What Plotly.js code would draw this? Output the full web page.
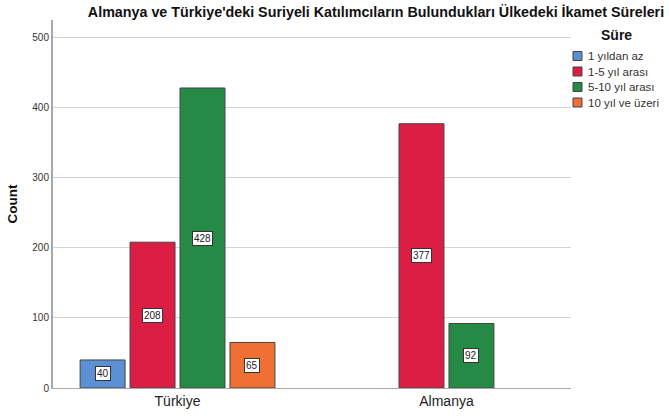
<!DOCTYPE html>
<html>
<head>
<meta charset="utf-8">
<script src="https://cdn.plot.ly/plotly-3.0.1.min.js"></script>
<style>html,body{margin:0;padding:0;background:#fff;}#chart{width:669px;height:416px;}</style>
</head>
<body>
<div id="chart"></div>
<script>
const categories = ["Türkiye", "Almanya"];
const seriesNames = ["1 yıldan az", "1-5 yıl arası", "5-10 yıl arası", "10 yıl ve üzeri"];
const val_1yildanaz = [40, null];
const val_1_5 = [208, 377];
const val_5_10 = [428, 92];
const val_10ustu = [65, null];
const seriesValues = [val_1yildanaz, val_1_5, val_5_10, val_10ustu];
const colors = ["#5B90D2", "#DC1D44", "#248A45", "#EF6F35"];
const legendTitle = "Süre";
const yTitle = "Count";
const chartTitle = "Almanya ve Türkiye'deki Suriyeli Katılımcıların Bulundukları Ülkedeki İkamet Süreleri";

const FONT = "Liberation Sans, Arial, sans-serif";
const W = 669, H = 416;
const M = { l: 53, r: 98, t: 20, b: 28 };
const PW = W - M.l - M.r, PH = H - M.t - M.b;
const px2x = px => (px - M.l) / PW;
const py2y = py => (H - M.b - py) / PH;

const bargap = 0.257;
const slot = (1 - bargap) / seriesNames.length;

const traces = seriesNames.map((name, j) => ({
  type: "bar",
  name: name,
  x: categories,
  y: seriesValues[j],
  marker: { color: colors[j], line: { color: "#444", width: 1 } },
  hoverinfo: "none",
  showlegend: false
}));

const annotations = [];
seriesValues.forEach((vals, j) => {
  vals.forEach((v, i) => {
    if (v == null) return;
    annotations.push({
      x: i + (j - (seriesNames.length - 1) / 2) * slot,
      y: v / 2,
      xref: "x", yref: "y",
      text: String(v),
      showarrow: false,
      font: { family: FONT, size: 10, color: "#222" },
      bgcolor: "#ffffff",
      bordercolor: "#333",
      borderwidth: 1,
      borderpad: 1
    });
  });
});

// manual legend
const shapes = [];
annotations.push({
  xref: "paper", yref: "paper",
  x: px2x(616), y: py2y(35),
  xanchor: "center", yanchor: "middle",
  text: "<b>" + legendTitle + "</b>", showarrow: false,
  font: { family: FONT, size: 14, color: "#111" }
});
seriesNames.forEach((name, j) => {
  const cy = 56 + j * 15.5;
  shapes.push({
    type: "rect", xref: "paper", yref: "paper",
    x0: px2x(573), x1: px2x(582), y0: py2y(cy + 4.5), y1: py2y(cy - 4.5),
    fillcolor: colors[j], line: { color: "#444", width: 1 }
  });
  annotations.push({
    xref: "paper", yref: "paper",
    x: px2x(586), y: py2y(cy),
    xanchor: "left", yanchor: "middle",
    text: name, showarrow: false,
    font: { family: FONT, size: 11.5, color: "#333" }
  });
});

const layout = {
  width: W, height: H,
  margin: M,
  paper_bgcolor: "#fff", plot_bgcolor: "#fff",
  barmode: "group",
  bargap: bargap,
  bargroupgap: 0.1,
  title: {
    text: "<b>" + chartTitle + "</b>",
    font: { family: FONT, size: 14.3, color: "#111" },
    xref: "container", x: 376 / W, xanchor: "center",
    yref: "container", y: 1 - 12 / H, yanchor: "middle"
  },
  xaxis: {
    type: "category",
    range: [-0.463, 1.463],
    showline: true, linecolor: "#a8a8a8", linewidth: 1,
    showgrid: false, ticks: "",
    tickfont: { family: FONT, size: 14, color: "#222" }
  },
  yaxis: {
    range: [0, 525],
    dtick: 100,
    showline: true, linecolor: "#a8a8a8", linewidth: 2,
    showgrid: true, gridcolor: "#d4d4d4", gridwidth: 1,
    zeroline: false, ticks: "",
    tickfont: { family: FONT, size: 10, color: "#333" },
    title: { text: "<b>" + yTitle + "</b>", font: { family: FONT, size: 13.5, color: "#111" }, standoff: 12 }
  },
  showlegend: false,
  shapes: shapes,
  annotations: annotations
};

Plotly.newPlot("chart", traces, layout, { displayModeBar: false, staticPlot: true });
</script>
</body>
</html>
